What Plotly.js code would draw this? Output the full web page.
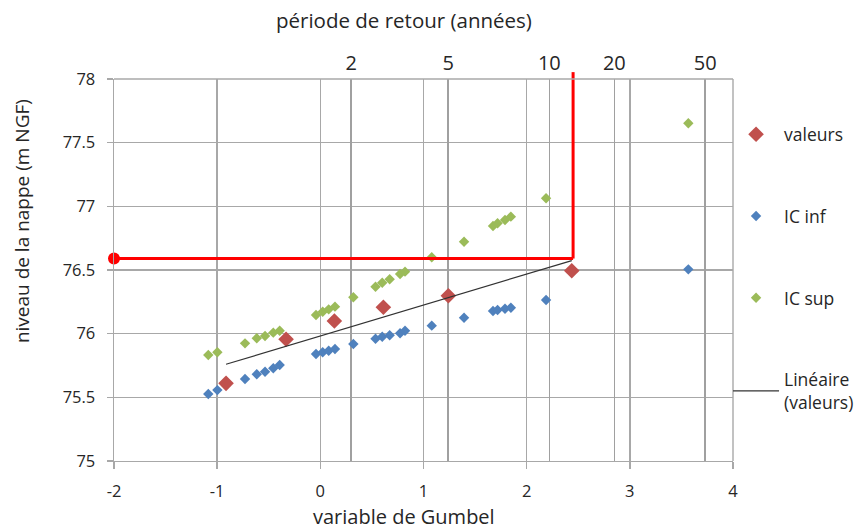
<!DOCTYPE html>
<html>
<head>
<meta charset="utf-8">
<script src="https://cdn.plot.ly/plotly-3.0.1.min.js"></script>
<style>html,body{margin:0;padding:0;background:#fff;}#chart{width:868px;height:531px;}</style>
</head>
<body>
<div id="chart"></div>
<script>
// ---- data ----
const valeursU = [-0.914, -0.332, 0.136, 0.611, 1.241, 2.437];
const valeursY = [75.610, 75.956, 76.099, 76.207, 76.298, 76.494];

const icU = [-1.086, -0.998, -0.730, -0.616, -0.536, -0.456, -0.394, -0.042, 0.023, 0.081, 0.142, 0.320,
             0.535, 0.600, 0.672, 0.773, 0.821, 1.080, 1.393, 1.674, 1.718, 1.790, 1.847, 2.188, 3.567];
const icInf = [75.526, 75.557, 75.644, 75.681, 75.701, 75.728, 75.754, 75.840, 75.854, 75.866, 75.880, 75.919,
               75.960, 75.976, 75.987, 76.003, 76.023, 76.063, 76.125, 76.178, 76.186, 76.196, 76.204, 76.264, 76.505];
const icSup = [75.832, 75.854, 75.924, 75.964, 75.982, 76.008, 76.023, 76.147, 76.172, 76.191, 76.212, 76.286,
               76.369, 76.400, 76.427, 76.469, 76.487, 76.600, 76.722, 76.846, 76.867, 76.893, 76.919, 77.063, 77.652];

const retPeriodLabels = ['2', '5', '10', '20', '50'];
const retPeriodU = [0.30, 1.24, 2.22, 2.85, 3.73];

const xTickVals = [-2, -1, 0, 1, 2, 3, 4];
const xTickLabels = ['-2', '-1', '0', '1', '2', '3', '4'];

const guideU = 2.45;
const guideLevel = 76.59;

// ---- linear trend of "valeurs" ----
const n = valeursU.length;
const mx = valeursU.reduce((a, b) => a + b, 0) / n;
const my = valeursY.reduce((a, b) => a + b, 0) / n;
let sxy = 0, sxx = 0;
for (let i = 0; i < n; i++) { sxy += (valeursU[i] - mx) * (valeursY[i] - my); sxx += (valeursU[i] - mx) ** 2; }
const slope = sxy / sxx, icpt = my - slope * mx;
const trendX = [Math.min(...valeursU), Math.max(...valeursU)];
const trendY = trendX.map(x => icpt + slope * x);

const yMin = 75, yMax = 78;
const FONT = 'Open Sans, sans-serif';
const GRID = '#A8A8A8';

const traces = [
  {x: icU, y: icInf, type: 'scatter', mode: 'markers', name: 'IC inf', legendgroup: 'b', legendrank: 2,
   marker: {symbol: 'diamond', size: 8, color: '#4F81BD'}, hoverinfo: 'x+y'},
  {x: icU, y: icSup, type: 'scatter', mode: 'markers', name: 'IC sup', legendgroup: 'c', legendrank: 3,
   marker: {symbol: 'diamond', size: 8, color: '#9BBB59'}, hoverinfo: 'x+y'},
  {x: valeursU, y: valeursY, type: 'scatter', mode: 'markers', name: 'valeurs', legendgroup: 'a', legendrank: 1,
   marker: {symbol: 'diamond', size: 12, color: '#C0504D'}},
  {x: trendX, y: trendY, type: 'scatter', mode: 'lines', name: 'Linéaire<br>(valeurs)', legendgroup: 'd', legendrank: 4,
   line: {color: '#333333', width: 1.2}},
  {x: [xTickVals[0], guideU], y: [guideLevel, guideLevel], type: 'scatter', mode: 'lines', showlegend: false,
   line: {color: '#FF0000', width: 3}, hoverinfo: 'skip'},
  {x: [xTickVals[0]], y: [guideLevel], type: 'scatter', mode: 'markers', showlegend: false, cliponaxis: false,
   marker: {symbol: 'circle', size: 12, color: '#FF0000'}, hoverinfo: 'skip'},
  {x: retPeriodU, y: retPeriodU.map(() => null), xaxis: 'x2', type: 'scatter', mode: 'markers', showlegend: false, hoverinfo: 'skip'}
];

const layout = {
  width: 868, height: 531,
  margin: {l: 114, r: 135, t: 79, b: 70, autoexpand: false},
  paper_bgcolor: '#fff', plot_bgcolor: '#fff',
  font: {family: FONT, color: '#262626'},
  showlegend: true,
  legend: {x: 0.992, xanchor: 'left', y: 0.902, yanchor: 'top', traceorder: 'grouped', tracegroupgap: 56,
           itemwidth: 46,
           font: {family: FONT, size: 17.5, color: '#262626'}, bgcolor: 'rgba(0,0,0,0)'},
  xaxis: {range: [-2, 4], tickmode: 'array', tickvals: xTickVals, ticktext: xTickLabels,
          showgrid: true, gridcolor: GRID, gridwidth: 1.4, zeroline: false,
          showline: true, linecolor: GRID, linewidth: 1.4, mirror: false,
          ticks: 'outside', ticklen: 7, tickcolor: GRID, tickwidth: 1.4, ticklabelstandoff: 8,
          tickfont: {family: FONT, size: 16.5, color: '#262626'}},
  xaxis2: {range: [-2, 4], overlaying: 'x', side: 'top', anchor: 'y', tickmode: 'array',
           tickvals: retPeriodU, ticktext: retPeriodLabels, showgrid: true, gridcolor: '#A0A0A0', gridwidth: 1.6,
           zeroline: false, showline: false, ticks: '', ticklabelstandoff: 4,
           tickfont: {family: FONT, size: 20, color: '#262626'}},
  yaxis: {range: [yMin, yMax], dtick: 0.5, tick0: 75,
          showgrid: true, gridcolor: GRID, gridwidth: 1.4, zeroline: false,
          showline: true, linecolor: GRID, linewidth: 1.4,
          ticks: 'outside', ticklen: 6, tickcolor: GRID, tickwidth: 1.4, ticklabelstandoff: 8,
          tickfont: {family: FONT, size: 16.5, color: '#262626'}},
  shapes: [
    {type: 'line', xref: 'x', yref: 'paper', x0: guideU, x1: guideU,
     y0: (guideLevel - yMin) / (yMax - yMin), y1: 1.018, line: {color: '#FF0000', width: 3}},
    {type: 'line', xref: 'paper', yref: 'paper', x0: 1, x1: 1, y0: 0, y1: 1, line: {color: GRID, width: 1.4}},
    {type: 'line', xref: 'paper', yref: 'paper', x0: 0, x1: 1, y0: 1, y1: 1, line: {color: GRID, width: 1.4}}
  ],
  annotations: [
    {text: 'variable de Gumbel', xref: 'paper', yref: 'paper', x: 0.4685, y: -0.146, xanchor: 'center', yanchor: 'middle',
     showarrow: false, font: {family: FONT, size: 20, color: '#262626'}},
    {text: 'période de retour (années)', xref: 'paper', yref: 'paper', x: 0.4685, y: 1.1545, xanchor: 'center', yanchor: 'middle',
     showarrow: false, font: {family: FONT, size: 20.5, color: '#262626'}},
    {text: 'niveau de la nappe (m NGF)', xref: 'paper', yref: 'paper', x: -0.1486, y: 0.628, xanchor: 'center', yanchor: 'middle',
     textangle: -90, showarrow: false, font: {family: FONT, size: 19, color: '#262626'}}
  ]
};

Plotly.newPlot('chart', traces, layout, {staticPlot: true});
</script>
</body>
</html>
